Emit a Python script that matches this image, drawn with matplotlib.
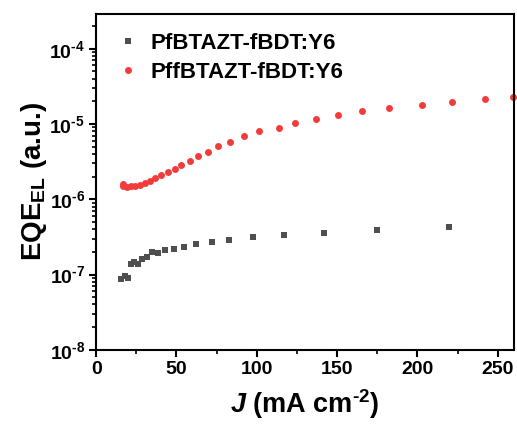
import matplotlib
matplotlib.use("Agg")
import matplotlib.pyplot as plt
import numpy as np
from matplotlib.ticker import LogLocator, FixedLocator, NullFormatter

plt.rcParams["font.family"] = "Liberation Sans"
plt.rcParams["font.weight"] = "bold"
plt.rcParams["mathtext.fontset"] = "custom"
plt.rcParams["mathtext.rm"] = "Liberation Sans:bold"
plt.rcParams["mathtext.bf"] = "Liberation Sans:bold"
plt.rcParams["mathtext.it"] = "Liberation Sans:bold:italic"

# PfBTAZT-fBDT:Y6 (grey squares)
j_pf = [15.4, 17.9, 19.8, 21.8, 23.7, 26.0, 28.5, 31.6, 35.0, 38.5, 43.0, 48.6,
        54.4, 62.3, 71.8, 82.9, 97.7, 117.0, 142.0, 175.0, 219.5]
eqe_pf = [8.8e-8, 9.7e-8, 9.1e-8, 1.40e-7, 1.49e-7, 1.40e-7, 1.62e-7, 1.73e-7,
          2.02e-7, 1.96e-7, 2.15e-7, 2.21e-7, 2.35e-7, 2.58e-7, 2.74e-7, 2.92e-7,
          3.20e-7, 3.40e-7, 3.61e-7, 3.96e-7, 4.34e-7]

# PffBTAZT-fBDT:Y6 (red circles)
j_pff = [16.5, 17.0, 19.1, 21.6, 24.3, 27.4, 30.5, 33.7, 36.8, 40.5, 44.5, 48.8,
         53.0, 58.2, 63.6, 69.4, 76.1, 83.5, 91.8, 101.2, 113.7, 123.6, 137.0,
         150.7, 165.6, 182.0, 202.6, 221.3, 241.9, 259.2]
eqe_pff = [1.58e-6, 1.51e-6, 1.45e-6, 1.48e-6, 1.51e-6, 1.57e-6, 1.64e-6, 1.77e-6,
           1.92e-6, 2.09e-6, 2.29e-6, 2.53e-6, 2.86e-6, 3.27e-6, 3.77e-6, 4.30e-6,
           5.07e-6, 5.84e-6, 6.95e-6, 8.02e-6, 8.96e-6, 1.035e-5, 1.17e-5, 1.32e-5,
           1.48e-5, 1.65e-5, 1.78e-5, 1.95e-5, 2.14e-5, 2.27e-5]

yticks = [1e-8, 1e-7, 1e-6, 1e-5, 1e-4]
ytick_labels = [r"$10^{\text{-}8}$", r"$10^{\text{-}7}$", r"$10^{\text{-}6}$",
                r"$10^{\text{-}5}$", r"$10^{\text{-}4}$"]

fig = plt.figure(figsize=(5.17, 4.24), dpi=100)
ax = fig.add_axes((0.186, 0.175, 0.808, 0.792))

ax.plot(j_pf, eqe_pf, "s", color="#4f4f4f", markersize=4.2, markeredgewidth=0,
        label="PfBTAZT-fBDT:Y6", clip_on=False)
ax.plot(j_pff, eqe_pff, "o", color="#f23c3c", markersize=5.0, markeredgewidth=0,
        label="PffBTAZT-fBDT:Y6", clip_on=False)

ax.set_yscale("log")
ax.set_xlim(0, 260)
ax.set_ylim(1e-8, 2.9e-4)

ax.xaxis.set_major_locator(FixedLocator([0, 50, 100, 150, 200, 250]))
ax.xaxis.set_minor_locator(FixedLocator([25, 75, 125, 175, 225]))
ax.yaxis.set_major_locator(FixedLocator(yticks))
ax.yaxis.set_minor_locator(LogLocator(base=10, subs=np.arange(2, 10)))
ax.yaxis.set_minor_formatter(NullFormatter())
ax.set_yticklabels(ytick_labels)

ax.tick_params(which="major", direction="out", length=5, width=1.5, labelsize=14, pad=3)
ax.tick_params(which="minor", direction="out", length=3, width=1.2)
for lbl in ax.get_xticklabels() + ax.get_yticklabels():
    lbl.set_fontweight("bold")
for sp in ax.spines.values():
    sp.set_linewidth(1.5)

ax.set_xlabel(r"$\mathit{J}$ (mA cm$^{\text{-}2}$)", fontsize=19.5, fontweight="bold", labelpad=7)
ax.set_ylabel(r"EQE$_{\mathregular{EL}}$ (a.u.)", fontsize=20, fontweight="bold", labelpad=0)

ax.legend(loc="upper left", frameon=False, prop={"weight": "bold", "size": 16},
          handletextpad=0.42, handlelength=1.2, borderaxespad=0, borderpad=0,
          bbox_to_anchor=(0.045, 0.944), labelspacing=0.35)

fig.savefig("out.png", dpi=100)
